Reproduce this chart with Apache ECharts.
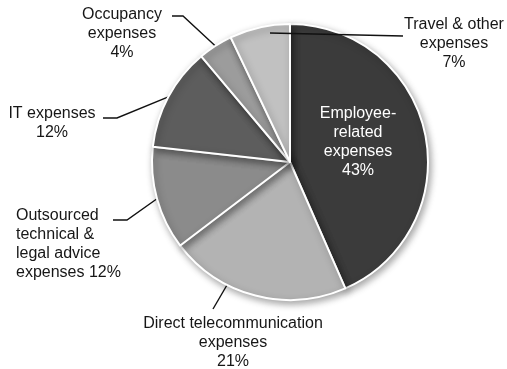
<!DOCTYPE html>
<html>
<head>
<meta charset="utf-8">
<script src="https://cdn.jsdelivr.net/npm/echarts@6/dist/echarts.min.js"></script>
<style>
  html, body { margin: 0; padding: 0; background: #ffffff; }
  #chart { width: 507px; height: 369px; }
</style>
</head>
<body>
<div id="chart"></div>
<script>
// Expense categories, clockwise from 12 o'clock
const categories = [
  'Employee-\nrelated\nexpenses',
  'Direct telecommunication\nexpenses',
  'Outsourced\ntechnical &\nlegal advice\nexpenses',
  'IT expenses',
  'Occupancy\nexpenses',
  'Travel & other\nexpenses'
];
// Share of total expenses (%)
const shares = [43, 21, 12, 12, 4, 7];
// Grey fill per slice
const sliceColors = ['#3b3b3b', '#b3b3b3', '#8b8b8b', '#5d5d5d', '#9c9c9c', '#c1c1c1'];
// How the percentage is appended to each label
const pctJoin = ['\n', '\n', ' ', '\n', '\n', '\n'];
// Slices whose leader line is drawn on top of the pie
const overlayLabels = [5];

// Label placement: anchor point, alignment, and leader-line path
const labelSpots = [
  { x: 358, y: 142, align: 'center' },
  { x: 233, y: 343, align: 'center', line: [[227, 285], [220, 297], [213, 309]] },
  { x: 16, y: 244, align: 'left', elbow: [127, 220], end: [113, 220] },
  { x: 52, y: 123, align: 'center', elbow: [117, 118], end: [103, 118] },
  { x: 122, y: 34, align: 'center', elbow: [183, 16], end: [172, 16] },
  { x: 454, y: 44, align: 'center', line: [[270, 33], [336, 34.5], [403, 36]] }
];

const center = [290, 162];
const radius = 138;

const labelFont = {
  fontFamily: 'Liberation Sans, Arial, Helvetica, sans-serif',
  fontSize: 16,
  lineHeight: 19,
  formatter: p => p.name + pctJoin[p.dataIndex] + p.value + '%'
};

function placeLabel(params) {
  const s = labelSpots[params.dataIndex];
  const out = { x: s.x, y: s.y, align: s.align, verticalAlign: 'middle' };
  if (s.line) {
    out.labelLinePoints = s.line;
  } else if (s.elbow && params.labelLinePoints) {
    out.labelLinePoints = [params.labelLinePoints[0], s.elbow, s.end];
  }
  return out;
}

const chart = echarts.init(document.getElementById('chart'), null, { renderer: 'canvas' });

// Filled slices with their labels
const mainData = categories.map((name, i) => {
  const onTop = overlayLabels.indexOf(i) >= 0;
  return {
    name: name,
    value: shares[i],
    itemStyle: { color: sliceColors[i] },
    label: i === 0
      ? { show: true, position: 'inside', color: '#ffffff' }
      : { show: !onTop, position: 'outside', color: '#161616' },
    labelLine: { show: i !== 0 && !onTop }
  };
});

// Transparent copy of the pie, carrying leader lines that cross other slices
const overlayData = categories.map((name, i) => {
  const onTop = overlayLabels.indexOf(i) >= 0;
  return {
    name: name,
    value: shares[i],
    itemStyle: { color: 'rgba(0,0,0,0)' },
    label: { show: onTop, position: 'outside', color: '#161616' },
    labelLine: { show: onTop }
  };
});

chart.setOption({
  animation: false,
  backgroundColor: '#ffffff',
  series: [{
    type: 'pie',
    center: center,
    radius: radius,
    startAngle: 90,
    clockwise: true,
    avoidLabelOverlap: false,
    data: mainData,
    itemStyle: {
      borderColor: '#ffffff',
      borderWidth: 2,
      shadowBlur: 7,
      shadowOffsetX: 2,
      shadowOffsetY: 3,
      shadowColor: 'rgba(0,0,0,0.35)'
    },
    label: labelFont,
    labelLine: { lineStyle: { color: '#111111', width: 1.4 } },
    labelLayout: placeLabel,
    emphasis: { disabled: true }
  }, {
    type: 'pie',
    z: 5,
    silent: true,
    center: center,
    radius: radius,
    startAngle: 90,
    clockwise: true,
    avoidLabelOverlap: false,
    data: overlayData,
    itemStyle: { borderWidth: 0 },
    label: labelFont,
    labelLine: { lineStyle: { color: '#111111', width: 1.4 } },
    labelLayout: placeLabel,
    emphasis: { disabled: true }
  }]
});
</script>
</body>
</html>
